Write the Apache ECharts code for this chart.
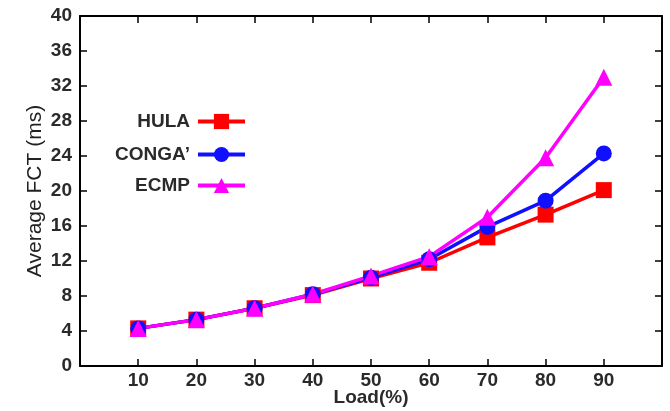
<!DOCTYPE html>
<html>
<head>
<meta charset="utf-8">
<script src="https://cdn.jsdelivr.net/npm/echarts@6/dist/echarts.min.js"></script>
<style>html,body{margin:0;padding:0;background:#fff}#c{width:670px;height:411px}</style>
</head>
<body>
<div id="c"></div>
<script>
const loads = [10, 20, 30, 40, 50, 60, 70, 80, 90];
const hula  = [4.3, 5.3, 6.6, 8.1, 10.0, 11.8, 14.7, 17.3, 20.1];
const conga = [4.3, 5.3, 6.6, 8.2, 10.1, 12.2, 15.9, 18.9, 24.3];
const ecmp  = [4.3, 5.3, 6.6, 8.2, 10.3, 12.5, 17.0, 23.8, 33.0];
const seriesNames = ['HULA', 'CONGA\u2019', 'ECMP'];
const xTickLabels = [10, 20, 30, 40, 50, 60, 70, 80, 90];

const FONT = 'Liberation Sans, Arial, Helvetica, sans-serif';
const TXT = {fontFamily: FONT, fontSize: 19, color: '#2a2a2a', fontWeight: 'bold'};
const pair = arr => loads.map((x, i) => [x, arr[i]]);
const axisLine = {show: true, onZero: false, lineStyle: {color: '#000', width: 2}};
const tick = {show: true, inside: true, length: 7, lineStyle: {color: '#000', width: 1.5}};

const chart = echarts.init(document.getElementById('c'), null, {renderer: 'canvas'});
const legendBase = {
  orient: 'vertical', align: 'right', right: 418, itemWidth: 47, itemHeight: 19, itemGap: 0,
  lineStyle: {width: 4},
  textStyle: Object.assign({}, TXT, {padding: [0, 3, 0, 0]})
};
chart.setOption({
  animation: false,
  backgroundColor: '#fff',
  grid: {left: 80, right: 8, top: 16, bottom: 45, containLabel: false, outerBoundsMode: 'none'},
  legend: [
    Object.assign({}, legendBase, {data: [seriesNames[0]], top: 107}),
    Object.assign({}, legendBase, {data: [seriesNames[1]], top: 140}),
    Object.assign({}, legendBase, {data: [seriesNames[2]], top: 171})
  ],
  xAxis: [{
    type: 'value', min: 0, max: 100, interval: 10, position: 'bottom',
    name: 'Load(%)', nameLocation: 'middle', nameGap: 22, nameMoveOverlap: false,
    nameTextStyle: TXT,
    axisLine: axisLine, axisTick: tick, splitLine: {show: false},
    axisLabel: Object.assign({}, TXT, {margin: 5,
      formatter: v => xTickLabels.indexOf(v) >= 0 ? String(v) : ''})
  }, {
    type: 'value', min: 0, max: 100, interval: 10, position: 'top',
    axisLine: axisLine, axisTick: tick, axisLabel: {show: false}, splitLine: {show: false}
  }],
  yAxis: [{
    type: 'value', min: 0, max: 40, interval: 4, position: 'left',
    name: 'Average FCT (ms)', nameLocation: 'middle', nameGap: 34, nameRotate: 90, nameMoveOverlap: false,
    nameTextStyle: Object.assign({}, TXT, {fontWeight: 'normal', color: '#222', fontSize: 21}),
    axisLine: axisLine, axisTick: tick, splitLine: {show: false},
    axisLabel: Object.assign({}, TXT, {margin: 8})
  }, {
    type: 'value', min: 0, max: 40, interval: 4, position: 'right',
    axisLine: axisLine, axisTick: tick, axisLabel: {show: false}, splitLine: {show: false}
  }],
  series: [
    {name: seriesNames[0], type: 'line', data: pair(hula), symbol: 'rect', symbolSize: 16,
     color: '#ff0000', lineStyle: {width: 3.5, color: '#ff0000'}, itemStyle: {color: '#ff0000'}},
    {name: seriesNames[1], type: 'line', data: pair(conga), symbol: 'circle', symbolSize: 16,
     color: '#1010ff', lineStyle: {width: 3.5, color: '#1010ff'}, itemStyle: {color: '#1010ff'}},
    {name: seriesNames[2], type: 'line', data: pair(ecmp), symbol: 'triangle', symbolSize: 17,
     color: '#ff00ff', lineStyle: {width: 3.5, color: '#ff00ff'}, itemStyle: {color: '#ff00ff'}}
  ]
});
</script>
</body>
</html>
